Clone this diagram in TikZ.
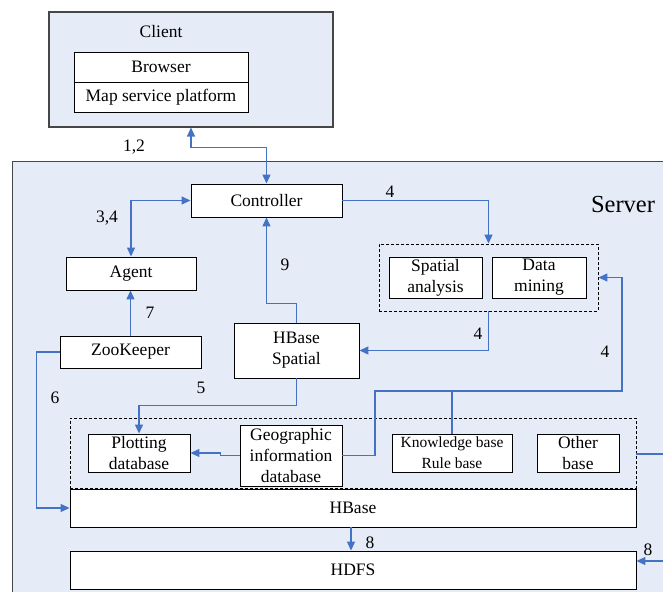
\documentclass[tikz,border=0pt]{standalone}
\usepackage{fontspec}
\setmainfont{Liberation Serif}
\usetikzlibrary{arrows.meta}
\definecolor{panel}{RGB}{230,236,247}
\definecolor{flow}{RGB}{68,114,196}
\definecolor{frame}{RGB}{70,70,70}
\tikzset{
  box/.style={draw=black, line width=0.9pt, fill=white, inner sep=0pt, align=center,
    font=\fontsize{17.5}{21}\selectfont},
  group/.style={draw=frame, line width=1.1pt, fill=panel},
  dotbox/.style={draw=black, line width=0.9pt, dash pattern=on 3pt off 2pt},
  link/.style={draw=flow, line width=1.2pt},
  tip/.style={-{Triangle[length=9pt,width=8pt]}},
  bitip/.style={{Triangle[length=9pt,width=8pt]}-{Triangle[length=9pt,width=8pt]}},
  num/.style={font=\fontsize{17.5}{21}\selectfont, inner sep=0pt},
}
\begin{document}
\begin{tikzpicture}[x=1pt, y=-1pt]
\useasboundingbox (0,0) rectangle (663,591);
\clip (0,0) rectangle (663,591);
\fill[white] (0,0) rectangle (663,591);

% client side
\node[group, minimum width=284pt, minimum height=115pt, inner sep=0pt] (client) at (191,69.5) {};
\node[num] (clientlbl) at (161,32) {Client};
\node[box, minimum width=174pt, minimum height=30pt] (browser) at (161,67) {Browser};
\node[box, minimum width=174pt, minimum height=30pt] (mapsp) at (161,97) {Map service platform};

% server side
\node[group, minimum width=700pt, minimum height=480pt, inner sep=0pt, anchor=north west] (server) at (12,161) {};
\node[font=\fontsize{24.5}{28}\selectfont, inner sep=0pt] (serverlbl) at (623,205) {Server};

\node[box, minimum width=151pt, minimum height=33pt] (ctrl) at (266.5,200.5) {Controller};
\node[dotbox, minimum width=219pt, minimum height=67pt, inner sep=0pt] (analysis) at (488.5,277.5) {};
\node[box, minimum width=93pt, minimum height=41pt] (sa) at (435.5,277.5) {Spatial\\analysis};
\node[box, minimum width=94pt, minimum height=41pt] (dm) at (539,277.5) {Data\\mining};
\node[box, minimum width=130pt, minimum height=33pt] (agent) at (131,273.5) {Agent};
\node[box, minimum width=141pt, minimum height=32pt] (zoo) at (130.5,352) {ZooKeeper};
\node[box, minimum width=125pt, minimum height=55pt] (hbs) at (296.5,350.5) {HBase\\Spatial};

\node[dotbox, minimum width=566pt, minimum height=70pt, inner sep=0pt] (stores) at (353,453) {};
\node[box, minimum width=102pt, minimum height=38pt] (plot) at (139,453) {Plotting\\database};
\node[box, minimum width=102pt, minimum height=61pt] (geo) at (291,455.5) {Geographic\\information\\database};
\node[box, minimum width=120pt, minimum height=38pt, font=\fontsize{15.5}{21}\selectfont] (know) at (452,453) {Knowledge base\\Rule base};
\node[box, minimum width=82pt, minimum height=38pt] (other) at (578,453) {Other\\base};
\node[box, minimum width=566pt, minimum height=38pt] (hbase) at (353,508) {HBase};
\node[box, minimum width=566pt, minimum height=38pt] (hdfs) at (353,570) {HDFS};

% routing points
\coordinate (bend) at (375,391);
\coordinate (rise) at (622,391);
\coordinate (farin) at (680,561);
\coordinate (farout) at (680,454);

% connectors
\draw[link, bitip] (client.south) -- ++(0,20) -| (ctrl.north);
\draw[link, bitip] (ctrl.west) -| (agent.north);
\draw[link, tip] (ctrl.east) -| (analysis.north);
\draw[link, tip] (zoo.north) -- (zoo.north |- agent.south);
\draw[link, tip] (hbs.north) -- ++(0,-19) -| (ctrl.south);
\draw[link, tip] (analysis.south) |- (hbs.east);
\draw[link, tip] (hbs.south) -- ++(0,27) -| (plot.north);
\draw[link, tip] (zoo.west) -- ++(-23,0) |- (hbase.west);
\draw[link, tip] (geo.west) -- ++(-19,0) |- (plot.east);
\draw[link, tip] (geo.east) -| (bend) -- (rise) |- (analysis.east);
\draw[link] (know.north) -- (know.north |- bend);
\draw[link, tip] (hbase.south -| 351,0) -- (hdfs.north -| 351,0);
\draw[link, tip] (farin) -- (farin -| hdfs.east);
\draw[link] (stores.east |- farout) -- (farout);

% step numbers
\node[num] (n12) at (134,147) {1,2};
\node[num] (n34) at (107,218) {3,4};
\node[num] (n4a) at (390,192) {4};
\node[num] (n7) at (150,313) {7};
\node[num] (n9) at (285,265) {9};
\node[num] (n4b) at (478,334) {4};
\node[num] (n4c) at (605,352) {4};
\node[num] (n5) at (201,388) {5};
\node[num] (n6) at (55,398) {6};
\node[num] (n8a) at (370,543) {8};
\node[num] (n8b) at (648,550) {8};
\end{tikzpicture}
\end{document}
